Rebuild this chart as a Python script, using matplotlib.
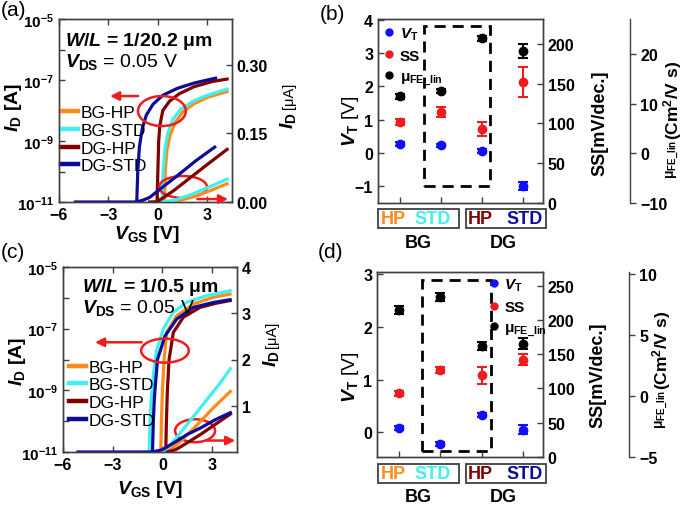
import numpy as np
import matplotlib
matplotlib.use('Agg')
import matplotlib.pyplot as plt
from matplotlib.patches import Ellipse, Rectangle
from matplotlib.lines import Line2D
from matplotlib.ticker import FixedLocator, FuncFormatter, NullLocator

plt.rcParams['font.family'] = 'Liberation Sans'
plt.rcParams['font.weight'] = 'bold'
plt.rcParams['mathtext.fontset'] = 'custom'
plt.rcParams['mathtext.rm'] = 'Liberation Sans'
plt.rcParams['mathtext.it'] = 'Liberation Sans:italic'
plt.rcParams['mathtext.bf'] = 'Liberation Sans:bold'
plt.rcParams['mathtext.bfit'] = 'Liberation Sans:bold:italic'
plt.rcParams['mathtext.sf'] = 'Liberation Sans'

# ---------------- data ----------------
devices = ['BG-HP', 'BG-STD', 'DG-HP', 'DG-STD']
dev_colors = ['#ff8c1a', '#40f0f0', '#800000', '#0c0c9a']

# (a) W/L = 1/20.2 um : log branch (VGS [V], log10 ID [A])
a_bghp_v = [-0.3, 0.40, 0.45, 0.55, 0.75, 1.05, 1.5, 2.2, 3.0, 4.2]
a_bghp_log = [-11, -11, -10, -9.3, -8.8, -8.4, -8.05, -7.78, -7.57, -7.38]
a_bgstd_v = [-0.3, 0.25, 0.32, 0.42, 0.6, 0.9, 1.4, 2.2, 3.0, 4.2]
a_bgstd_log = [-11, -11, -10, -9.3, -8.75, -8.3, -7.95, -7.68, -7.5, -7.3]
a_dghp_v = [-0.5, -0.05, 0.0, 0.05, 0.12, 0.3, 0.7, 1.3, 2.2, 3.3, 4.2]
a_dghp_log = [-11, -11, -10, -9, -8.5, -8.0, -7.7, -7.45, -7.22, -7.05, -6.97]
a_dgstd_v = [-5.0, -1.28, -1.22, -1.12, -0.95, -0.7, -0.3, 0.3, 1.2, 2.2, 3.0, 3.5]
a_dgstd_log = [-11, -11, -10, -9.2, -8.6, -8.15, -7.8, -7.5, -7.27, -7.1, -7.0, -6.94]
# (a) linear branch (VGS [V], ID [uA])
a_bghp_lv = [0.5, 1.3, 2.2, 3.2, 4.2]
a_bghp_lin = [0, 0.003, 0.012, 0.025, 0.04]
a_bgstd_lv = [0.3, 1.0, 2.0, 3.0, 4.2]
a_bgstd_lin = [0, 0.004, 0.016, 0.031, 0.05]
a_dghp_lv = [-0.05, 1.0, 2.0, 3.0, 4.2]
a_dghp_lin = [0, 0.026, 0.054, 0.082, 0.115]
a_dgstd_lv = [-1.3, -0.9, -0.5, 0.2, 1.2, 2.3, 3.45]
a_dgstd_lin = [0, 0.004, 0.01, 0.03, 0.058, 0.09, 0.12]

# (c) W/L = 1/0.5 um
c_bghp_v = [-0.3, -0.1, -0.06, 0.0, 0.1, 0.26, 0.86, 1.87, 3.07, 4.08]
c_bghp_log = [-11, -11, -10, -9, -8, -7.12, -6.58, -6.2, -5.98, -5.88]
c_bgstd_v = [-0.8, -0.75, -0.68, -0.55, -0.35, 0.06, 0.66, 1.47, 2.67, 4.08]
c_bgstd_log = [-11, -10, -9.3, -8.5, -7.7, -7.0, -6.47, -6.14, -5.93, -5.77]
c_dghp_v = [0.2, 0.24, 0.3, 0.4, 0.66, 1.26, 2.27, 3.28, 4.08]
c_dghp_log = [-11, -10, -9, -8, -7.12, -6.63, -6.31, -6.17, -6.09]
c_dgstd_v = [-5.1, -0.6, -0.55, -0.48, -0.3, 0.16, 0.86, 1.87, 3.07, 4.08]
c_dgstd_log = [-11, -11, -10, -9.2, -8.0, -7.23, -6.69, -6.31, -6.15, -6.06]
c_bghp_lv = [0.0, 0.5, 1.0, 2.0, 3.0, 4.1]
c_bghp_lin = [0, 0.06, 0.2, 0.55, 0.93, 1.31]
c_bgstd_lv = [-0.3, 0.1, 0.6, 1.5, 2.5, 3.5, 4.1]
c_bgstd_lin = [0, 0.03, 0.2, 0.6, 1.05, 1.5, 1.8]
c_dghp_lv = [0.3, 0.8, 1.5, 2.3, 3.2, 4.1]
c_dghp_lin = [0, 0.05, 0.2, 0.38, 0.6, 0.82]
c_dgstd_lv = [-0.6, 0.0, 0.7, 1.5, 2.3, 3.2, 4.1]
c_dgstd_lin = [0, 0.05, 0.2, 0.38, 0.52, 0.7, 0.85]

# (b) long channel parameters
vt_b = [0.27, 0.23, 0.06, -1.0]
vt_b_err = [0.06, 0.05, 0.06, 0.12]
ss_b = [102, 114, 93, 152]
ss_b_err = [4, 6, 9, 19]
mu_b = [11.5, 12.5, 23.1, 20.5]
mu_b_err = [0.5, 0.4, 0.5, 1.4]
# (d) short channel parameters
vt_d = [0.08, -0.23, 0.32, 0.05]
vt_d_err = [0.04, 0.04, 0.04, 0.09]
ss_d = [93, 127, 119, 142]
ss_d_err = [4, 5, 12, 8]
mu_d = [7.05, 8.1, 4.1, 4.3]
mu_d_err = [0.3, 0.3, 0.3, 0.45]

W, H = 685, 506
fig = plt.figure(figsize=(W / 100, H / 100), dpi=100)
fig.patch.set_facecolor('white')


def fx(px):
    return px / W


def fy(py):
    return 1 - py / H


def add_axes(l, t, r, b):
    return fig.add_axes([fx(l), fy(b), (r - l) / W, (b - t) / H])


SPINE = '#404040'
RED = '#ee1c1c'


def style(ax):
    for s in ax.spines.values():
        s.set_color(SPINE)
        s.set_linewidth(1.0)
    ax.tick_params(direction='in', length=4, width=1, labelsize=11.5, color=SPINE)


def logfmt(v, pos):
    e = int(round(np.log10(v)))
    return r'$\mathbf{10^{%d}}$' % e if e % 2 else ''


def transfer(box, logs, lins, lin_max, lin_ticks, lin_fmt, wl_text, txt_xy,
             leg_anchor, big_ell, big_arrow, small_ell, small_arrow):
    ax = add_axes(*box)
    axr = ax.twinx()
    handles = []
    for (v, lg), col, name in zip(logs, dev_colors, devices):
        h, = ax.plot(v, 10 ** np.array(lg), color=col, lw=2.3, label=name)
        handles.append(h)
    for (v, li), col in zip(lins, dev_colors):
        axr.plot(v, li, color=col, lw=2.3)
    ax.set_yscale('log')
    ax.set_ylim(1e-11, 1e-5)
    ax.yaxis.set_major_locator(FixedLocator([10.0 ** e for e in range(-11, -4)]))
    ax.yaxis.set_major_formatter(FuncFormatter(logfmt))
    ax.yaxis.set_minor_locator(NullLocator())
    ax.set_xlim(-6, 4.5)
    ax.set_xticks([-6, -3, 0, 3])
    axr.set_ylim(0, lin_max)
    axr.set_yticks(lin_ticks)
    axr.yaxis.set_major_formatter(FuncFormatter(lambda v, p: lin_fmt % v))
    style(ax)
    style(axr)
    ax.tick_params(top=True)
    ax.tick_params(axis='y', labelsize=11)

    leg = ax.legend(handles=handles, loc='upper left', bbox_to_anchor=leg_anchor,
                    frameon=False, handlelength=1.0, handletextpad=0.15,
                    labelspacing=0.15, borderpad=0, borderaxespad=0,
                    prop={'weight': 'normal', 'size': 12.5})
    for l in leg.get_lines():
        l.set_linewidth(3.2)

    fig.text(fx(txt_xy[0]), fy(txt_xy[1]), wl_text, fontsize=14,
             fontweight='bold', va='center', ha='left')
    fig.text(fx(txt_xy[0]), fy(txt_xy[1] + 20), r'$\mathit{V}_\mathrm{DS}$ = 0.05 V',
             fontsize=14, fontweight='normal', va='center', ha='left')

    for (cx, cy, w, h) in (big_ell, small_ell):
        axr.add_patch(Ellipse((cx, cy), w, h, transform=axr.transAxes, fill=False,
                              ec=RED, lw=1.8, clip_on=False))
    for (x0, x1, y) in (big_arrow, small_arrow):
        axr.annotate('', xy=(x1, y), xytext=(x0, y), xycoords='axes fraction',
                     arrowprops=dict(arrowstyle='-|>', color=RED, lw=1.8,
                                     mutation_scale=13, shrinkA=0, shrinkB=0))
    return ax, axr


# ---------------- panel (a) ----------------
transfer((59, 20, 232, 203),
         [(a_bghp_v, a_bghp_log), (a_bgstd_v, a_bgstd_log),
          (a_dghp_v, a_dghp_log), (a_dgstd_v, a_dgstd_log)],
         [(a_bghp_lv, a_bghp_lin), (a_bgstd_lv, a_bgstd_lin),
          (a_dghp_lv, a_dghp_lin), (a_dgstd_lv, a_dgstd_lin)],
         0.40, [0.0, 0.15, 0.30], '%.2f',
         r'$\mathbfit{W}$/$\mathbfit{L}$ = 1/20.2 μm', (65, 42),
         (0.012, 0.53),
         (0.595, 0.497, 0.277, 0.164), (0.457, 0.295, 0.579),
         (0.717, 0.082, 0.277, 0.12), (0.80, 0.977, 0.016))

# ---------------- panel (c) ----------------
transfer((63, 268, 237, 453),
         [(c_bghp_v, c_bghp_log), (c_bgstd_v, c_bgstd_log),
          (c_dghp_v, c_dghp_log), (c_dgstd_v, c_dgstd_log)],
         [(c_bghp_lv, c_bghp_lin), (c_bgstd_lv, c_bgstd_lin),
          (c_dghp_lv, c_dghp_lin), (c_dgstd_lv, c_dgstd_lin)],
         4.0, [1, 2, 3, 4], '%d',
         r'$\mathbfit{W}$/$\mathbfit{L}$ = 1/0.5 μm', (82, 288),
         (0.035, 0.50),
         (0.586, 0.548, 0.274, 0.13), (0.452, 0.184, 0.593),
         (0.759, 0.115, 0.23, 0.124), (0.828, 0.99, 0.062))

# axis labels for transfer panels
for (ylx, yly), (xlx, xly), (rx, ry1, ry2) in (((14, 107), (147, 235), (288, 121, 96)),
                                               ((17, 361), (150, 490), (271, 359, 335))):
    fig.text(fx(ylx), fy(yly), r'$\mathbfit{I}_\mathbf{D}$ [A]', fontsize=14,
             rotation=90, ha='center', va='center')
    fig.text(fx(xlx), fy(xly), r'$\mathbfit{V}_\mathbf{GS}$ [V]', fontsize=14,
             ha='center', va='center')
    fig.text(fx(rx), fy(ry1), r'$\mathbfit{I}_\mathbf{D}$', fontsize=14,
             rotation=90, ha='center', va='center')
    fig.text(fx(rx + 1), fy(ry2), '[μA]', fontsize=10.5, fontweight='normal',
             rotation=90, ha='center', va='center')


# ---------------- parameter panels ----------------
def params(box, vt, vte, ss, sse, mu, mue, vt_lim, vt_ticks, ss_lim, ss_ticks,
           mu_lim, mu_ticks, mu_pos, rect, leg_anchor):
    ax = add_axes(*box)
    ax2 = ax.twinx()
    ax3 = ax.twinx()
    xpos = np.arange(1, len(devices) + 1)
    kw = dict(fmt='o', ms=6, capsize=3.5, elinewidth=1.5, capthick=1.5)
    ax.errorbar(xpos, vt, yerr=vte, color='#1010ff', **kw)
    ax2.errorbar(xpos, ss, yerr=sse, color=RED, **kw)
    ax3.errorbar(xpos, mu, yerr=mue, color='black', **kw)
    ax.set_xlim(0.47, 4.48)
    ax.set_xticks(xpos)
    ax.set_xticklabels([])
    ax.set_ylim(*vt_lim)
    ax.set_yticks(vt_ticks)
    ax2.set_ylim(*ss_lim)
    ax2.set_yticks(ss_ticks)
    ax3.set_ylim(*mu_lim)
    ax3.set_yticks(mu_ticks)
    style(ax)
    style(ax2)
    style(ax3)
    ax3.spines['right'].set_position(('axes', mu_pos))
    for s in ('top', 'bottom', 'left'):
        ax3.spines[s].set_visible(False)
    ax3.tick_params(direction='out')
    ax.add_patch(Rectangle((rect[0], rect[1]), rect[2], rect[3], fill=False,
                           ec='black', lw=2, ls=(0, (4, 2.5))))
    hs = [Line2D([], [], ls='none', marker='o', ms=5, color=c)
          for c in ('#1010ff', RED, 'black')]
    ax3.legend(hs, [r'$\mathbfit{V}_\mathbf{T}$', 'SS', r'μ$_\mathbf{FE\_lin}$'],
               loc='upper left', bbox_to_anchor=leg_anchor, frameon=False,
               fontsize=11, handlelength=0.8, handletextpad=0.3, labelspacing=0.45,
               borderpad=0, borderaxespad=0)
    return ax


params((378, 20, 543, 204), vt_b, vt_b_err, ss_b, ss_b_err, mu_b, mu_b_err,
       (-1.5, 4.02), [-1, 0, 1, 2, 3, 4], (0, 231), [0, 50, 100, 150, 200],
       (-10, 27), [-10, 0, 10, 20], 1.527, (1.59, -1.0, 1.59, 4.8), (0.03, 0.965))
params((377, 273, 543, 458), vt_d, vt_d_err, ss_d, ss_d_err, mu_d, mu_d_err,
       (-0.47, 3.04), [0, 1, 2, 3], (0, 270), [0, 50, 100, 150, 200, 250],
       (-5, 10.16), [-5, 0, 5, 10], 1.518, (1.55, -0.355, 1.67, 3.245), (0.665, 0.975))

for vtc, ssc, mux, mub in (((350, 121), (600, 123), 673, 140),
                           ((350, 377), (598, 375), 662, 390)):
    fig.text(fx(vtc[0]), fy(vtc[1]), r'$\mathit{V}_\mathrm{T}$ [V]', fontsize=14,
             fontweight='normal', rotation=90, ha='center', va='center')
    fig.text(fx(ssc[0]), fy(ssc[1]), 'SS[mV/dec.]', fontsize=13,
             rotation=90, ha='center', va='center')
    fig.text(fx(mux), fy(mub), r'$\mathrm{\mu}_\mathbf{FE\_lin}$', fontsize=10,
             rotation=90, ha='center', va='top')
    fig.text(fx(mux), fy(mub), r'(Cm$^\mathbf{2}$/V s)', fontsize=12.5,
             rotation=90, ha='center', va='bottom')

# category boxes
for top, lab_y in ((210, 244), (465, 498)):
    for l, r in ((378, 459), (466, 546)):
        fig.add_artist(Rectangle((fx(l), fy(top + 19)), (r - l) / W, 19 / H,
                                 transform=fig.transFigure, fill=False,
                                 ec=SPINE, lw=1.3))
    for name, col, cx in zip(['HP', 'STD', 'HP', 'STD'], dev_colors, (393, 433, 480, 525)):
        fig.text(fx(cx), fy(top + 9.5), name, color=col, fontsize=13,
                 ha='center', va='center')
    fig.text(fx(418), fy(lab_y), 'BG', fontsize=13, ha='center', va='center')
    fig.text(fx(503), fy(lab_y), 'DG', fontsize=13, ha='center', va='center')

# panel letters
for lab, x, y in (('(a)', 1, 11), ('(b)', 320, 14), ('(c)', 1, 253), ('(d)', 318, 253)):
    fig.text(fx(x), fy(y), lab, fontsize=15, fontweight='normal', ha='left', va='center')

fig.savefig('out.png', dpi=100)
